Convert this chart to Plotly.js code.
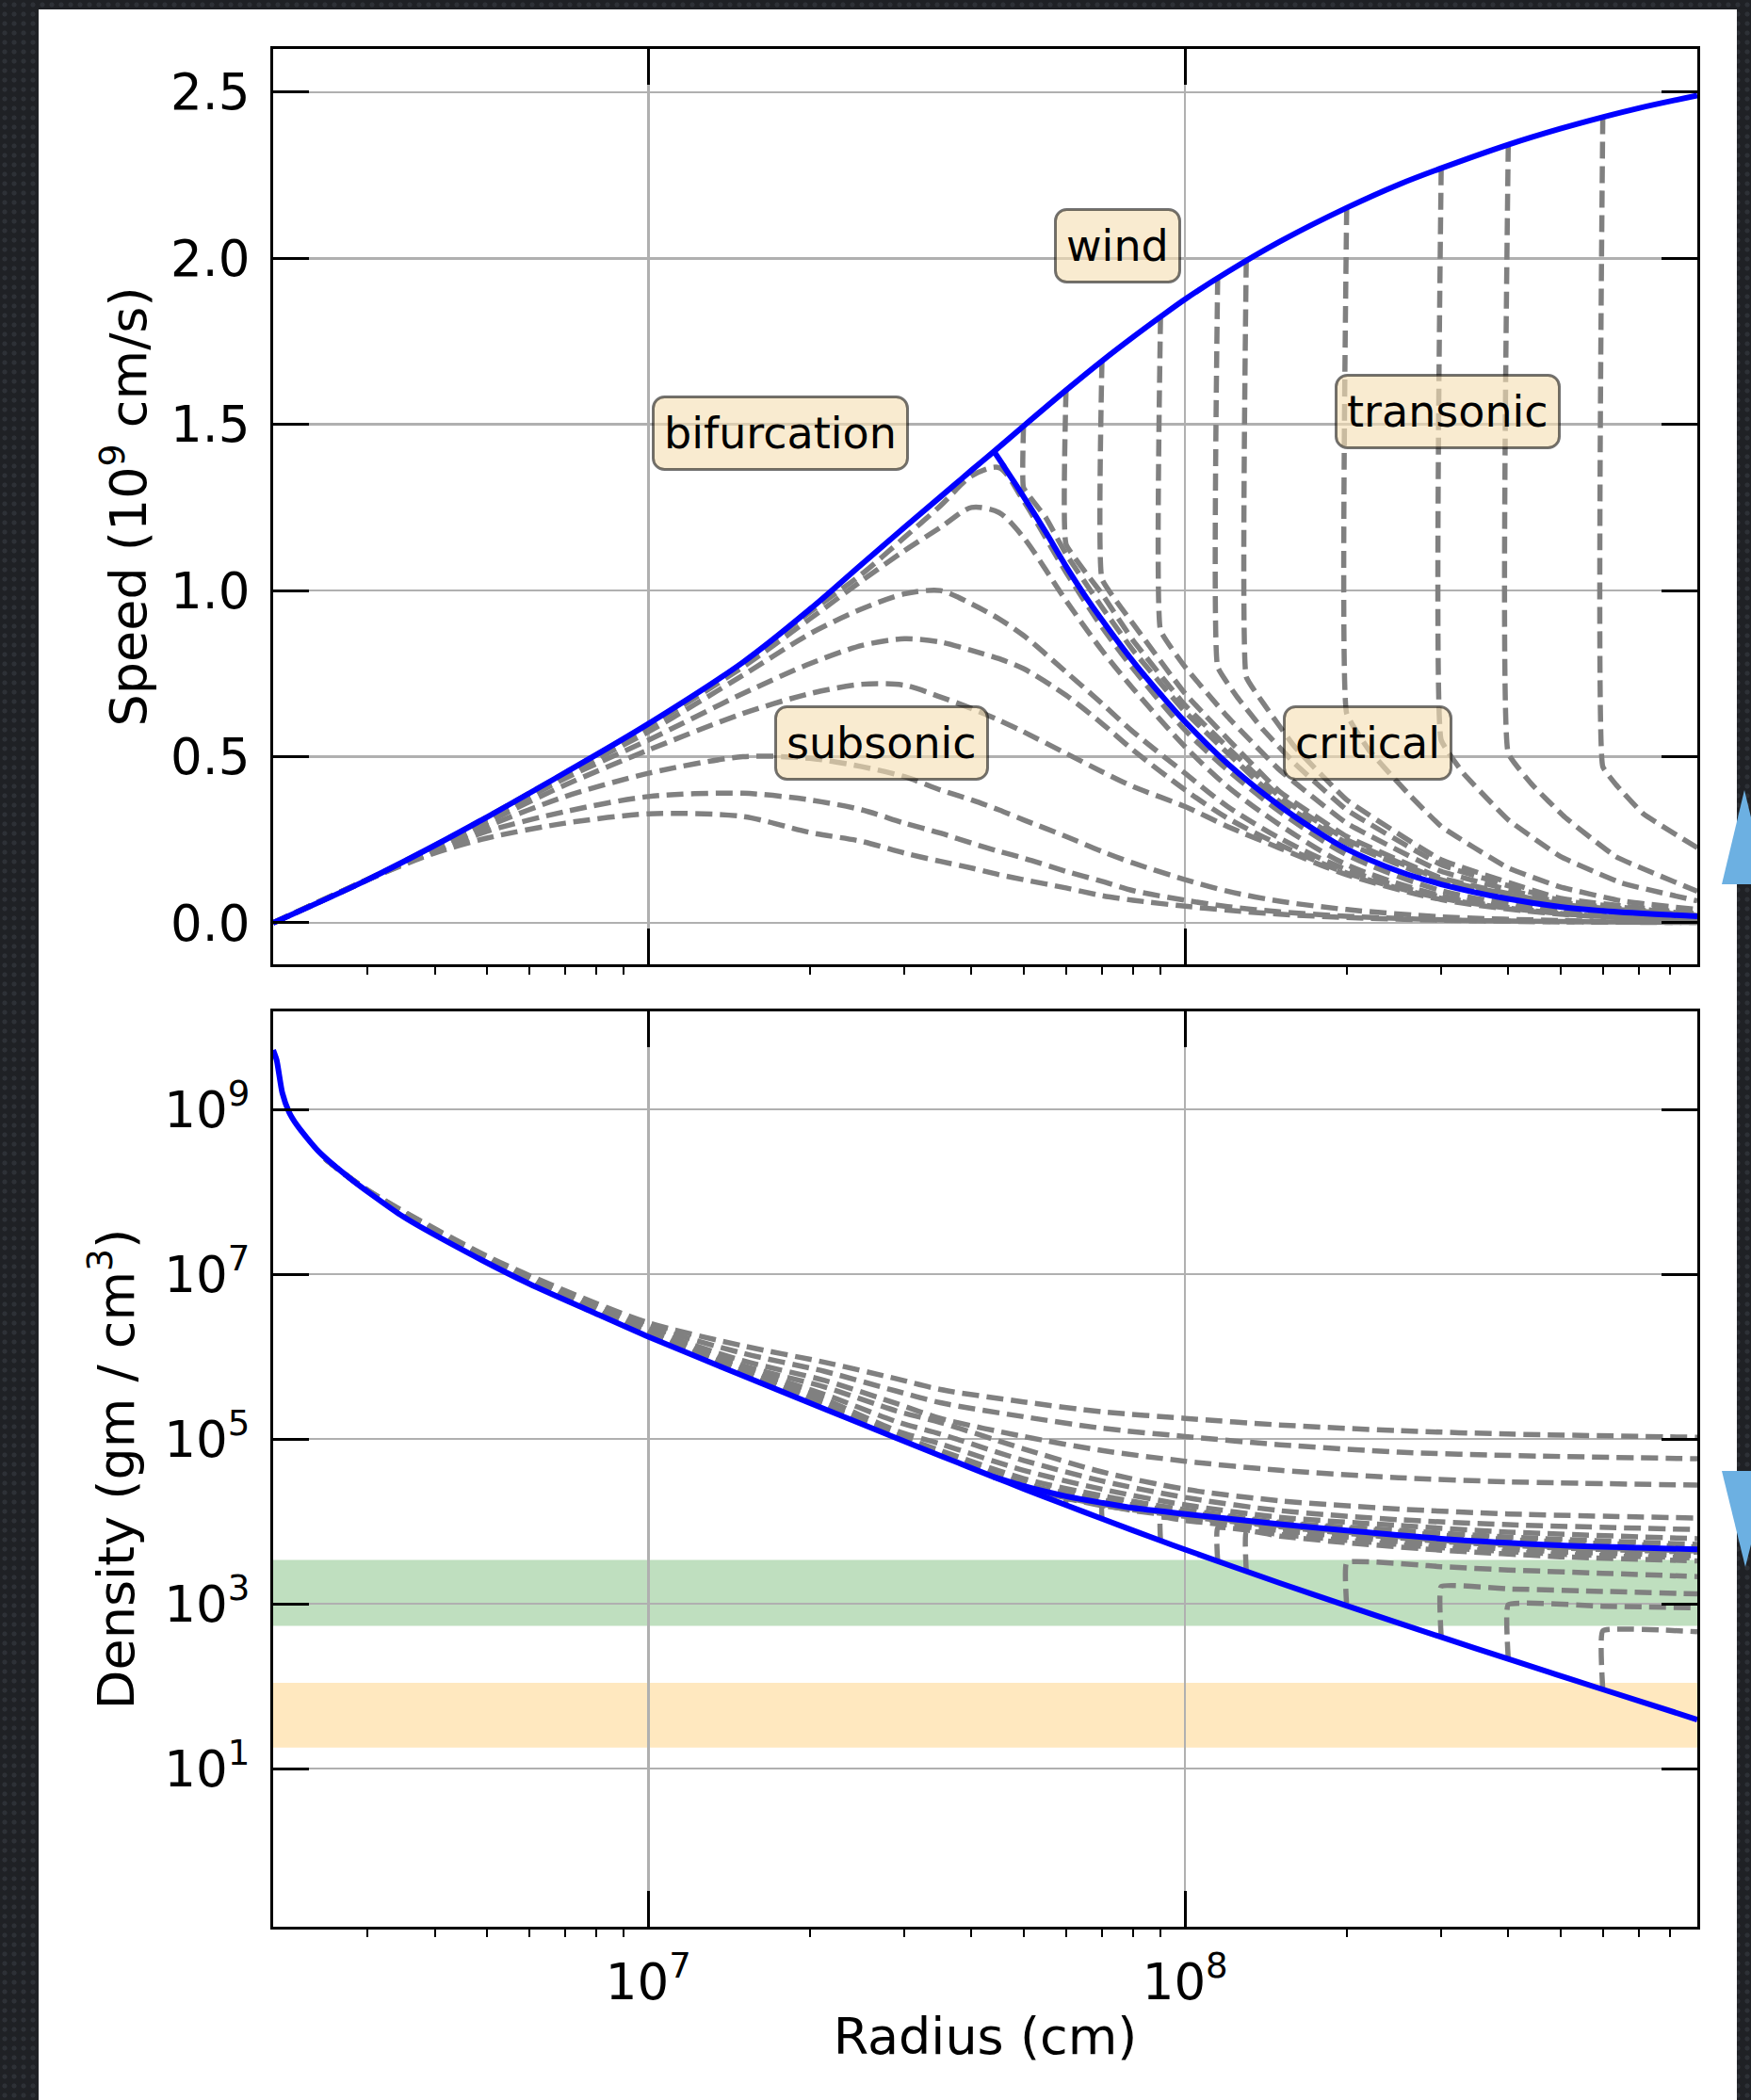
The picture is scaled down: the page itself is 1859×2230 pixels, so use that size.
<!DOCTYPE html>
<html>
<head>
<meta charset="utf-8">
<script src="https://cdn.plot.ly/plotly-3.0.1.min.js"></script>
<style>
html,body{margin:0;padding:0;width:1859px;height:2230px;overflow:hidden;}
body{background-color:#1f2125;background-image:radial-gradient(circle at 50% 50%, rgba(120,130,145,0.16) 0 30%, rgba(0,0,0,0) 42%);background-size:10px 10px;}
#card{position:absolute;left:41px;top:10px;width:1803px;height:2220px;background:#ffffff;}
#chart{position:absolute;left:0;top:0;width:1859px;height:2230px;}
#deco{position:absolute;left:0;top:0;pointer-events:none;}
</style>
</head>
<body>
<div id="card"></div>
<div id="chart"></div>
<svg id="deco" width="1859" height="2230">
  <polygon points="1828,939 1852,839 1859,868 1859,939" fill="#6cb0e2"/>
  <polygon points="1828,1562 1859,1562 1859,1640 1853,1664" fill="#6cb0e2"/>
</svg>
<script>
// ---------------- DATA ----------------
// Wind solution (blue, top panel): radius (cm) and speed (1e9 cm/s)
const windR = [2e6,3e6,4e6,5e6,7e6,1e7,1.5e7,2e7,2.5e7,3e7,3.5e7,4e7,4.4e7,5e7,6e7,7e7,8e7,9e7,1e8,1.2e8,1.5e8,2e8,2.5e8,3e8,4e8,5e8,6e8,7e8,9e8];
const windSpeed = [0,0.130,0.233,0.318,0.452,0.599,0.784,0.944,1.080,1.190,1.282,1.362,1.418,1.495,1.603,1.691,1.763,1.824,1.877,1.959,2.050,2.152,2.222,2.271,2.342,2.390,2.425,2.452,2.490];

// Critical solution branch (blue, descending after bifurcation)
const critR = [4.4e7,4.6e7,5e7,5.5e7,6e7,6.5e7,7e7,8e7,9e7,1e8,1.2e8,1.5e8,1.75e8,2e8,2.5e8,3e8,4e8,5e8,6e8,7.5e8,9e8];
const critSpeed = [1.42,1.373,1.283,1.176,1.073,0.986,0.912,0.787,0.688,0.605,0.479,0.352,0.278,0.222,0.155,0.116,0.072,0.048,0.036,0.026,0.02];

// Subsonic solutions (grey dashed): common radius grid, one speed list per curve
const subR = [2e6,3e6,4e6,5e6,7e6,1e7,1.5e7,2e7,2.5e7,3e7,3.5e7,4e7,4.5e7,5e7,6e7,7e7,8e7,1e8,1.2e8,1.5e8,2e8,3e8,5e8,9e8];
const subSpeed = [
  [0,0.13,0.21,0.255,0.30,0.328,0.32,0.272,0.245,0.21,0.185,0.165,0.145,0.13,0.105,0.082,0.068,0.05,0.038,0.026,0.016,0.008,0.003,0.001],
  [0,0.13,0.215,0.275,0.335,0.38,0.39,0.37,0.34,0.30,0.27,0.24,0.215,0.195,0.155,0.125,0.097,0.068,0.049,0.033,0.02,0.009,0.004,0.001],
  [0,0.13,0.22,0.29,0.38,0.45,0.50,0.495,0.47,0.44,0.40,0.37,0.34,0.31,0.26,0.215,0.18,0.13,0.095,0.065,0.04,0.018,0.007,0.002],
  [0,0.13,0.225,0.302,0.415,0.52,0.63,0.69,0.718,0.715,0.68,0.645,0.61,0.575,0.51,0.455,0.41,0.35,0.29,0.225,0.145,0.07,0.026,0.008],
  [0,0.13,0.228,0.31,0.435,0.55,0.69,0.78,0.835,0.855,0.845,0.82,0.795,0.765,0.685,0.60,0.52,0.40,0.315,0.235,0.15,0.074,0.028,0.009],
  [0,0.13,0.23,0.314,0.445,0.575,0.745,0.87,0.945,0.99,1.0,0.96,0.915,0.865,0.755,0.66,0.575,0.45,0.35,0.255,0.16,0.078,0.029,0.01],
  [0,0.13,0.232,0.316,0.45,0.59,0.77,0.915,1.03,1.12,1.19,1.25,1.235,1.16,0.97,0.82,0.705,0.53,0.41,0.295,0.175,0.082,0.03,0.01],
  [0,0.13,0.233,0.318,0.452,0.597,0.782,0.935,1.05,1.16,1.255,1.345,1.37,1.27,1.055,0.89,0.765,0.58,0.46,0.335,0.205,0.097,0.036,0.012]
];

// Transonic solutions (grey dashed): shock radius, jump, then post-shock decline
const transonicSpeedR = [
  [5e7,5e7,5.5e7,6e7,7e7,8e7,1e8,1.5e8,2e8,3e8,5e8,9e8],
  [6e7,6e7,7e7,8e7,1e8,1.5e8,2e8,3e8,5e8,9e8],
  [7e7,7e7,8e7,1e8,1.5e8,2e8,3e8,5e8,9e8],
  [9e7,9e7,1e8,1.2e8,1.5e8,2e8,3e8,5e8,9e8],
  [1.15e8,1.15e8,1.25e8,1.4e8,1.6e8,2e8,3e8,5e8,9e8],
  [1.3e8,1.3e8,1.4e8,1.6e8,2e8,3e8,5e8,9e8],
  [2e8,2e8,2.2e8,2.6e8,3e8,4e8,5e8,6.5e8,9e8],
  [3e8,3e8,3.3e8,4e8,5e8,6.5e8,9e8],
  [4e8,4e8,4.43e8,5.1e8,6.35e8,9e8],
  [6e8,6e8,6.35e8,7.13e8,9e8]
];
const transonicSpeed = [
  [1.495,1.31,1.22,1.11,0.95,0.82,0.635,0.365,0.24,0.126,0.052,0.021],
  [1.603,1.14,0.99,0.85,0.655,0.38,0.25,0.13,0.054,0.0215],
  [1.691,1.035,0.90,0.69,0.395,0.26,0.135,0.056,0.022],
  [1.824,0.88,0.77,0.62,0.46,0.30,0.155,0.062,0.023],
  [1.942,0.77,0.68,0.58,0.48,0.34,0.175,0.068,0.025],
  [1.994,0.74,0.66,0.53,0.37,0.19,0.074,0.027],
  [2.152,0.63,0.52,0.39,0.29,0.165,0.108,0.066,0.040],
  [2.271,0.55,0.45,0.31,0.20,0.12,0.066],
  [2.342,0.51,0.416,0.318,0.199,0.095],
  [2.425,0.47,0.416,0.329,0.226]
];

// Density (bottom panel), stored as log10 of gm/cm^3
const windRhoR = [2e6,2.03e6,2.08e6,2.14e6,2.22e6,2.43e6,2.81e6,3.49e6,4.58e6,6.01e6,7.87e6,1e7,1.48e7,2.13e7,2.88e7,3.53e7,4.4e7,5e7,6e7,7e7,9e7,1e8,1.5e8,2e8,3e8,4e8,6e8,9e8];
const windLogRho = [9.72,9.60,9.20,8.97,8.80,8.49,8.14,7.70,7.27,6.88,6.54,6.24,5.784,5.364,5.018,4.787,4.539,4.396,4.197,4.031,3.766,3.657,3.252,2.975,2.595,2.33,1.96,1.594];

const critRhoR = [4.4e7,5e7,5.5e7,6e7,7e7,8e7,1e8,1.5e8,2e8,3e8,5e8,7e8,9e8];
const critLogRho = [4.539,4.43,4.36,4.305,4.225,4.163,4.09,3.965,3.89,3.79,3.71,3.68,3.66];

const subRhoR = [2.5e6,3e6,5e6,7e6,1e7,1.5e7,2.13e7,2.9e7,3.5e7,5e7,7e7,1e8,1.5e8,2.5e8,4e8,9e8];
const subLogRho = [
  [8.40,8.02,7.22,6.80,6.41,6.13,5.93,5.73,5.60,5.45,5.33,5.25,5.17,5.10,5.06,5.02],
  [8.40,8.02,7.20,6.77,6.37,6.04,5.82,5.58,5.44,5.27,5.13,5.03,4.93,4.84,4.80,4.76],
  [8.40,8.01,7.18,6.74,6.33,5.95,5.71,5.43,5.25,5.03,4.86,4.73,4.62,4.53,4.48,4.44],
  [8.40,8.01,7.16,6.72,6.30,5.89,5.63,5.34,5.20,4.88,4.60,4.39,4.25,4.15,4.09,4.04],
  [8.40,8.01,7.16,6.71,6.28,5.86,5.54,5.21,5.06,4.74,4.49,4.29,4.13,4.02,3.96,3.90],
  [8.40,8.01,7.15,6.70,6.27,5.84,5.48,5.10,4.94,4.62,4.39,4.20,4.05,3.95,3.87,3.79],
  [8.40,8.01,7.15,6.70,6.26,5.83,5.42,5.05,4.86,4.52,4.31,4.14,3.99,3.89,3.81,3.72],
  [8.40,8.01,7.15,6.69,6.255,5.82,5.40,5.03,4.82,4.46,4.26,4.11,3.98,3.87,3.78,3.69]
];

const transonicRhoR = [
  [5e7,5e7,6e7,7e7,1e8,1.5e8,2e8,3e8,5e8,9e8],
  [6e7,6e7,7e7,1e8,1.5e8,2e8,3e8,5e8,9e8],
  [7e7,7e7,8e7,1e8,1.5e8,2e8,3e8,5e8,9e8],
  [9e7,9e7,1e8,1.5e8,2e8,3e8,5e8,9e8],
  [1.15e8,1.15e8,1.5e8,2e8,3e8,5e8,9e8],
  [1.3e8,1.3e8,1.5e8,2e8,3e8,5e8,9e8],
  [2e8,2e8,3e8,4e8,6e8,9e8],
  [3e8,3e8,4e8,6e8,9e8],
  [4e8,4e8,6e8,9e8],
  [6e8,6e8,9e8]
];
const transonicLogRho = [
  [4.396,4.40,4.285,4.205,4.075,3.95,3.87,3.77,3.69,3.64],
  [4.197,4.27,4.19,4.06,3.935,3.855,3.755,3.675,3.625],
  [4.031,4.19,4.13,4.05,3.92,3.84,3.74,3.66,3.61],
  [3.766,4.05,4.01,3.89,3.81,3.71,3.63,3.58],
  [3.517,3.92,3.84,3.77,3.68,3.60,3.555],
  [3.395,3.88,3.82,3.74,3.65,3.57,3.52],
  [2.975,3.50,3.45,3.41,3.37,3.33],
  [2.595,3.21,3.18,3.15,3.12],
  [2.33,2.99,2.97,2.95],
  [1.96,2.67,2.66]
];

// Shaded density bands (gm/cm^3)
const bandLow = [540, 18];
const bandHigh = [3400, 110];
const bandColor = ['rgba(0,128,0,0.25)', 'rgba(255,165,0,0.25)'];

// Region labels (top panel)
const labelText = ['wind','bifurcation','transonic','subsonic','critical'];
const labelR = [7.47e7, 1.765e7, 3.084e8, 2.72e7, 2.188e8];
const labelSpeed = [2.038, 1.474, 1.539, 0.541, 0.541];

// Tick labels
const xMajor = [1e7, 1e8];
const xMajorText = ['10<sup>7</sup>', '10<sup>8</sup>'];
const speedTicks = [0, 0.5, 1.0, 1.5, 2.0, 2.5];
const speedTickText = ['0.0','0.5','1.0','1.5','2.0','2.5'];
const rhoTicks = [1e1, 1e3, 1e5, 1e7, 1e9];
const rhoTickText = ['10<sup>1</sup>','10<sup>3</sup>','10<sup>5</sup>','10<sup>7</sup>','10<sup>9</sup>'];

// ---------------- BUILD ----------------
const pow10 = a => a.map(v => Math.pow(10, v));
const GREY = '#808080';
const BLUE = '#0000ff';
const dashLine = {color: GREY, width: 5.5, dash: '18px,8px'};
const traces = [];

subSpeed.forEach(s => traces.push({x: subR, y: s, xaxis:'x', yaxis:'y', mode:'lines', line: Object.assign({shape:'spline', smoothing:0.8}, dashLine), hoverinfo:'skip'}));
transonicSpeed.forEach((s, i) => traces.push({x: transonicSpeedR[i], y: s, xaxis:'x', yaxis:'y', mode:'lines', line: Object.assign({shape:'spline', smoothing:0.3}, dashLine), hoverinfo:'skip'}));
traces.push({x: windR, y: windSpeed, xaxis:'x', yaxis:'y', mode:'lines', line:{color:BLUE, width:6, shape:'spline', smoothing:1}, hoverinfo:'skip'});
traces.push({x: critR, y: critSpeed, xaxis:'x', yaxis:'y', mode:'lines', line:{color:BLUE, width:6, shape:'spline', smoothing:1}, hoverinfo:'skip'});

subLogRho.forEach(s => traces.push({x: subRhoR, y: pow10(s), xaxis:'x2', yaxis:'y2', mode:'lines', line: Object.assign({shape:'spline', smoothing:0.8}, dashLine), hoverinfo:'skip'}));
transonicLogRho.forEach((s, i) => traces.push({x: transonicRhoR[i], y: pow10(s), xaxis:'x2', yaxis:'y2', mode:'lines', line: Object.assign({shape:'spline', smoothing:0.3}, dashLine), hoverinfo:'skip'}));
traces.push({x: windRhoR, y: pow10(windLogRho), xaxis:'x2', yaxis:'y2', mode:'lines', line:{color:BLUE, width:6, shape:'spline', smoothing:0.6}, hoverinfo:'skip'});
traces.push({x: critRhoR, y: pow10(critLogRho), xaxis:'x2', yaxis:'y2', mode:'lines', line:{color:BLUE, width:6, shape:'spline', smoothing:0.8}, hoverinfo:'skip'});

// empty traces so that the top-side tick axes are drawn
traces.push({x: [], y: [], xaxis:'x3', yaxis:'y', mode:'lines', hoverinfo:'skip'});
traces.push({x: [], y: [], xaxis:'x4', yaxis:'y2', mode:'lines', hoverinfo:'skip'});

const xMinor = [];
[1e6, 1e7, 1e8].forEach(d => { for (let k = 2; k <= 9; k++) xMinor.push(k * d); });

const FONT = 'DejaVu Sans, Verdana, sans-serif';
const X_RANGE = [Math.log10(2e6), Math.log10(9e8)];
const xBase = () => ({
  type:'log', range:X_RANGE,
  tickmode:'array', tickvals:xMajor, ticktext:xMajorText,
  ticks:'inside', ticklen:38, tickwidth:3, tickcolor:'black',
  showline:true, linewidth:3, linecolor:'black', mirror:false,
  showgrid:true, gridcolor:'#b0b0b0', gridwidth:2.5, zeroline:false,
  minor:{tickmode:'array', tickvals:xMinor, ticks:'outside', ticklen:8, tickwidth:2, tickcolor:'black', showgrid:false},
  tickfont:{family:FONT, size:53, color:'black'}, ticklabelstandoff:10
});
// top-side axes carry only the major ticks; linear axis over the same decades
const xTop = (over, anc) => ({
  type:'linear', range:X_RANGE, overlaying:over, anchor:anc, side:'top', mirror:false,
  tickmode:'array', tickvals:xMajor.map(Math.log10), ticks:'inside', ticklen:38, tickwidth:3, tickcolor:'black',
  showline:true, linewidth:3, linecolor:'black', showgrid:false, zeroline:false, showticklabels:false
});
const yBase = () => ({
  ticks:'inside', ticklen:38, tickwidth:3, tickcolor:'black',
  showline:true, linewidth:3, linecolor:'black', mirror:'ticks',
  showgrid:true, gridcolor:'#b0b0b0', gridwidth:2.5, zeroline:false,
  tickfont:{family:FONT, size:53, color:'black'}, ticklabelstandoff:11
});

const xaxis = Object.assign(xBase(), {domain:[0,1], anchor:'y', showticklabels:false});
const xaxis2 = Object.assign(xBase(), {domain:[0,1], anchor:'y2', showticklabels:true,
  title:{text:'Radius (cm)', font:{family:FONT, size:54, color:'black'}, standoff:10}});
const xaxis3 = xTop('x', 'y');
const xaxis4 = xTop('x2', 'y2');
const yaxis = Object.assign(yBase(), {domain:[0.5125,1], anchor:'x', range:[-0.125, 2.63],
  tickmode:'array', tickvals:speedTicks, ticktext:speedTickText,
  title:{text:'Speed (10<sup>9</sup> cm/s)', font:{family:FONT, size:54, color:'black'}, standoff:9}});
const yaxis2 = Object.assign(yBase(), {domain:[0,0.4875], anchor:'x2', type:'log', range:[-0.92, 10.19],
  tickmode:'array', tickvals:rhoTicks, ticktext:rhoTickText,
  title:{text:'Density (gm / cm<sup>3</sup>)', font:{family:FONT, size:54, color:'black'}, standoff:15}});

const shapes = bandLow.map((lo, i) => ({type:'rect', layer:'below', xref:'x2 domain', yref:'y2',
  x0:0, x1:1, y0:lo, y1:bandHigh[i], fillcolor:bandColor[i], line:{width:0}}));

const annotations = labelText.map((t, i) => ({
  text:t, xref:'x', yref:'y', x:Math.log10(labelR[i]), y:labelSpeed[i], showarrow:false,
  font:{family:FONT, size:46, color:'black'}, bgcolor:'rgba(245,222,179,0.62)',
  bordercolor:'rgba(0,0,0,0.55)', borderwidth:3, borderpad:10, xanchor:'center', yanchor:'middle'
}));

const layout = {
  width:1859, height:2230, margin:{l:290, r:57, t:52, b:184},
  paper_bgcolor:'rgba(0,0,0,0)', plot_bgcolor:'#ffffff',
  font:{family:FONT, color:'black'}, showlegend:false,
  xaxis, xaxis2, xaxis3, xaxis4, yaxis, yaxis2, shapes, annotations
};

Plotly.newPlot('chart', traces, layout, {staticPlot:true, displayModeBar:false}).then(() => {
  document.querySelectorAll('#chart g.annotation rect.bg').forEach(r => { r.setAttribute('rx', 12); r.setAttribute('ry', 12); });
});
</script>
</body>
</html>
